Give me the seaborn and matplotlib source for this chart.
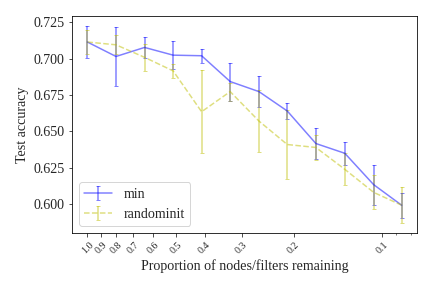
import matplotlib
matplotlib.use('Agg')
import matplotlib.pyplot as plt
from matplotlib.ticker import MultipleLocator, FormatStrFormatter
import seaborn as sns
import pandas as pd

# proportion of nodes/filters remaining
prop = [1.0, 0.8, 0.64, 0.512, 0.41, 0.328, 0.262, 0.21, 0.168, 0.134, 0.107, 0.086]

min_mean = [0.7113, 0.7014, 0.7076, 0.7023, 0.7019, 0.6842, 0.6773, 0.6640, 0.6417, 0.6350, 0.6135, 0.5994]
min_err = [0.0110, 0.0201, 0.0074, 0.0095, 0.0048, 0.0130, 0.0106, 0.0057, 0.0104, 0.0078, 0.0138, 0.0086]

rand_mean = [0.7113, 0.7094, 0.7008, 0.6915, 0.6635, 0.6773, 0.6571, 0.6410, 0.6390, 0.6240, 0.6082, 0.5994]
rand_err = [0.0085, 0.0066, 0.0092, 0.0048, 0.0285, 0.0062, 0.0211, 0.0234, 0.0083, 0.0110, 0.0117, 0.0125]

tick_vals = [1.0, 0.9, 0.8, 0.7, 0.6, 0.5, 0.4, 0.3, 0.2, 0.1]
tick_labels = ['1.0', '0.9', '0.8', '0.7', '0.6', '0.5', '0.4', '0.3', '0.2', '0.1']

df = pd.DataFrame({'prop': prop * 2,
                   'acc': min_mean + rand_mean,
                   'err': min_err + rand_err,
                   'method': ['min'] * len(prop) + ['randominit'] * len(prop)})

sns.set_style('ticks')
plt.rcParams['font.family'] = 'serif'
plt.rcParams['font.serif'] = ['Liberation Serif', 'DejaVu Serif']

fig, ax = plt.subplots(figsize=(6, 4), dpi=72)
styles = {'min': ('b', '-'), 'randominit': ('y', '--')}
for name, grp in df.groupby('method'):
    c, ls = styles[name]
    ax.errorbar(grp['prop'], grp['acc'], yerr=grp['err'], color=c, linestyle=ls,
                alpha=0.5, capsize=2, label=name, linewidth=1.5)

ax.set_xscale('log')
ax.invert_xaxis()
ax.set_xticks(tick_vals)
ax.set_xticklabels(tick_labels, rotation=45, fontsize=10)
ax.yaxis.set_major_locator(MultipleLocator(0.025))
ax.yaxis.set_major_formatter(FormatStrFormatter('%.3f'))
ax.tick_params(axis='y', labelsize=14)
ax.set_xlabel('Proportion of nodes/filters remaining', fontsize=14)
ax.set_ylabel('Test accuracy', fontsize=14)
for sp in ax.spines.values():
    sp.set_visible(True)
    sp.set_color('black')
ax.legend(loc='lower left', fontsize=14)

plt.subplots_adjust(left=0.166, right=0.966, top=0.944, bottom=0.19)
plt.savefig('out.png')
